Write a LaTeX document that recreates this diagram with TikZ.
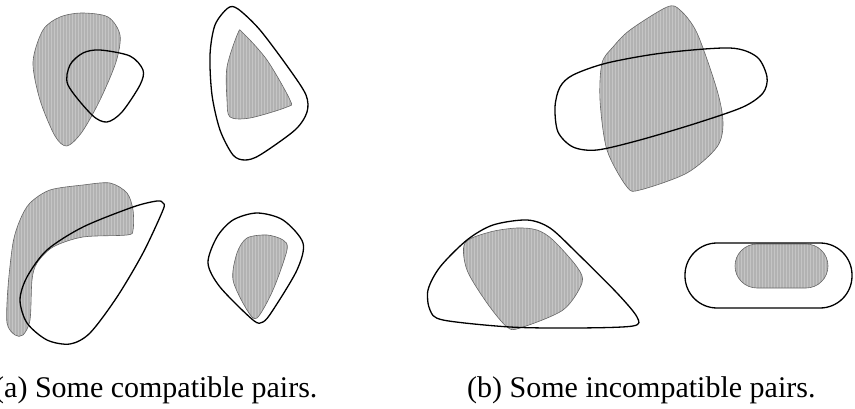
\documentclass[tikz,border=0pt]{standalone}
\usepackage{fontspec}
\setmainfont{Liberation Serif}
\begin{document}
\begin{tikzpicture}[x=1pt,y=-1pt,
  outline/.style={draw=black,line width=1.3pt,line join=round},
  shadeedge/.style={draw=black!60,line width=0.6pt},
  shadefill/.style={fill=black!30},
  streak/.style={draw=white,opacity=0.25,line width=0.9pt},
  caption/.style={inner sep=0pt,anchor=base west,font=\fontsize{30}{36}\selectfont}]
\useasboundingbox (0,0) rectangle (855,409);
\newcommand\shadedblob[1]{%
  \begin{scope}
    \clip plot[smooth cycle] coordinates {#1};
    \fill[shadefill] (0,0) rectangle (855,409);
    \foreach \xx in {0,3,...,855} \draw[streak] (\xx,0) -- (\xx,409);
  \end{scope}
  \draw[shadeedge] plot[smooth cycle] coordinates {#1};}
% ---------- (a) top left
\shadedblob{(43,30) (60,17) (82,13) (108,17) (120,35) (116,62) (100,100) (82,132) (67,146) (55,136) (40,100) (33,62)}
\draw[outline] plot[smooth cycle] coordinates {(100,50) (130,56) (143,70) (140,85) (122,112) (107,122) (92,115) (68,85) (70,65) (83,53)};
% ---------- (a) top right
\shadedblob{(238,33) (227,67) (227,100) (230,117) (250,118) (287,107) (290,100) (267,60) (243,33)}
\draw[outline] plot[smooth cycle] coordinates {(228,8) (238,9) (260,30) (290,70) (306,95) (307,112) (295,130) (260,155) (245,160) (233,155) (220,130) (212,95) (210,55) (215,25)};
% ---------- (a) bottom left
\shadedblob{(30,203) (50,190) (83,185) (110,183) (127,193) (133,210) (133,230) (127,235) (83,237) (53,247) (37,263) (32,280) (30,320) (23,335) (15,335) (7,323) (8,287) (13,243) (20,220)}
\draw[outline] plot[smooth cycle] coordinates {(157,201) (133,207) (83,227) (47,250) (27,277) (20,300) (27,323) (47,340) (70,344) (90,333) (117,297) (143,253) (163,210) (163,203)};
% ---------- (a) bottom right
\shadedblob{(267,235) (283,240) (287,250) (273,290) (257,318) (247,310) (233,280) (237,253) (247,238)}
\draw[outline] plot[smooth cycle] coordinates {(257,213) (283,220) (303,243) (297,270) (273,310) (263,322) (253,320) (220,287) (208,263) (217,237) (233,220)};
% ---------- (b) top
\shadedblob{(630,30) (667,7) (680,10) (697,33) (717,90) (723,123) (717,147) (687,173) (640,190) (627,187) (607,150) (600,100) (602,63) (613,47)}
\draw[outline] plot[smooth cycle] coordinates {(555,107) (560,87) (573,75) (607,63) (663,53) (730,48) (757,57) (767,77) (763,93) (743,107) (697,123) (640,140) (597,150) (573,147) (558,132)};
% ---------- (b) bottom left
\shadedblob{(517,228) (490,232) (465,243) (467,270) (487,303) (507,327) (520,328) (563,310) (582,283) (577,267) (553,240) (537,230)}
\draw[outline] plot[smooth cycle] coordinates {(527,220) (493,225) (467,240) (440,267) (428,290) (430,310) (443,320) (510,327) (577,328) (633,326) (637,317) (617,293) (577,253) (550,228)};
% ---------- (b) bottom right
\begin{scope}
  \clip[rounded corners=22pt] (735,244) rectangle (828,288);
  \fill[shadefill] (700,230) rectangle (855,300);
  \foreach \xx in {0,3,...,855} \draw[streak] (\xx,230) -- (\xx,300);
\end{scope}
\draw[shadeedge,rounded corners=22pt] (735,244) rectangle (828,288);
\draw[outline,rounded corners=32pt] (685,243) rectangle (852,308);
% ---------- captions
\node[caption] (capa) at (-6,397) {(a) Some compatible pairs.};
\node[caption] (capb) at (467,397) {(b) Some incompatible pairs.};
\end{tikzpicture}
\end{document}
